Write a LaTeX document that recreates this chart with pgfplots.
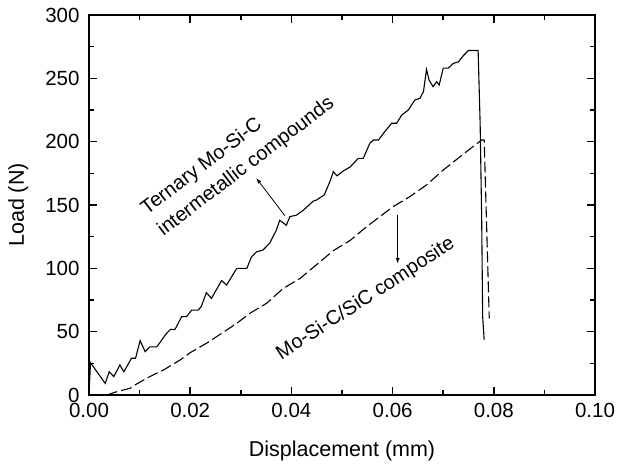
\documentclass[border=0pt]{standalone}
\usepackage{fontspec}
\setmainfont{Liberation Sans}
\usepackage{pgfplots}
\pgfplotsset{compat=1.18}

\begin{document}
\begin{tikzpicture}[x=1pt,y=1pt]
  \path[use as bounding box] (-89,-79) rectangle (537,395);
  \begin{axis}[
      at={(0,0)}, anchor=south west,
      scale only axis,
      width=506pt, height=380pt,
      xmin=0, xmax=0.1, ymin=0, ymax=300,
      xtick={0,0.02,...,0.1},
      minor xtick={0.01,0.03,...,0.09},
      ytick={0,50,...,300},
      minor ytick={25,75,...,275},
      tick align=inside,
      major tick length=8pt,
      minor tick length=5pt,
      every tick/.style={line width=1.5pt, black},
      axis line style={line width=2pt},
      xticklabel style={yshift=-5pt, /pgf/number format/.cd, fixed, fixed zerofill, precision=2},
      yticklabel style={xshift=-6pt},
      /pgf/number format/assume math mode=true,
      scaled x ticks=false,
      tick label style={font=\fontsize{20.5}{24}\selectfont},
      label style={font=\fontsize{21.5}{25}\selectfont},
      xlabel={Displacement (mm)},
      ylabel={Load (N)},
      xlabel style={yshift=-16pt},
      ylabel style={yshift=10pt},
    ]
    \addplot[black, line width=1.1pt] coordinates {
      (0,0) (0.0003,25.5) (0.0032,9.2) (0.004,18.4) (0.0049,14.5) (0.0061,23.7)
      (0.0069,18.4) (0.0084,29) (0.0092,29) (0.0101,42.9) (0.0111,34.2) (0.012,38)
      (0.0134,38) (0.0153,48.6) (0.0161,51.8) (0.017,51.8) (0.0183,61.8) (0.0193,62)
      (0.0203,67) (0.0216,67) (0.0222,70) (0.0232,80.8) (0.0242,76.3) (0.0262,90.3)
      (0.0272,86.8) (0.0292,100) (0.0312,100) (0.0321,109) (0.0331,113) (0.0344,114.5)
      (0.0357,119.8) (0.037,130) (0.0377,138) (0.039,134) (0.0397,140.8) (0.041,142)
      (0.0424,146) (0.0443,153) (0.045,154) (0.0465,158) (0.0476,168.4) (0.0483,176.3)
      (0.049,173) (0.0503,177) (0.0516,180) (0.0532,186.8) (0.0542,186.8) (0.0555,198.7)
      (0.0562,201.3) (0.0572,201.3) (0.0582,206.6) (0.0598,214.5) (0.0608,214.5)
      (0.0618,221) (0.0631,225) (0.0644,232.9) (0.0654,234.2) (0.0661,239.5)
      (0.0667,257) (0.0672,248.7) (0.068,243.4) (0.0687,247.3) (0.0692,244.7)
      (0.07,258) (0.071,258) (0.072,261.8) (0.073,263) (0.074,268) (0.075,272)
      (0.0769,272) (0.0773,214.5) (0.0776,140.8) (0.0778,61.8) (0.0781,43.4)
    };
    \addplot[black, line width=1.1pt, dash pattern=on 11pt off 4pt] coordinates {
      (0.0035,0) (0.0055,2.6) (0.0081,5.3) (0.0094,8.7) (0.012,14.5) (0.0147,19.7)
      (0.018,27.6) (0.02,33.4) (0.0232,40.8) (0.0252,46) (0.0292,56.6) (0.0318,64.5)
      (0.0351,72.4) (0.0384,84.2) (0.0417,92) (0.045,103) (0.0483,114) (0.0516,122)
      (0.0549,133) (0.0601,148.7) (0.0634,156.6) (0.0667,165.8) (0.07,177.6)
      (0.0733,188) (0.0763,197.4) (0.0776,201.3) (0.0781,201.3) (0.0791,60.5)
    };
    \node[rotate=37.3, align=left, anchor=base west, inner sep=0pt,
          font=\fontsize{20}{27}\selectfont]
      at (axis cs:0.0147,125) {Ternary Mo-Si-C\\intermetallic compounds};
    \draw[-latex, line width=0.8pt] (axis cs:0.0387,141.6) -- (axis cs:0.0331,171);
    \node[rotate=33, anchor=base west, inner sep=0pt, font=\fontsize{20}{24}\selectfont]
      at (axis cs:0.0380,27.5) {Mo-Si-C/SiC composite};
    \draw[-latex, line width=0.8pt] (axis cs:0.0610,142) -- (axis cs:0.0610,104);
  \end{axis}
\end{tikzpicture}
\end{document}
